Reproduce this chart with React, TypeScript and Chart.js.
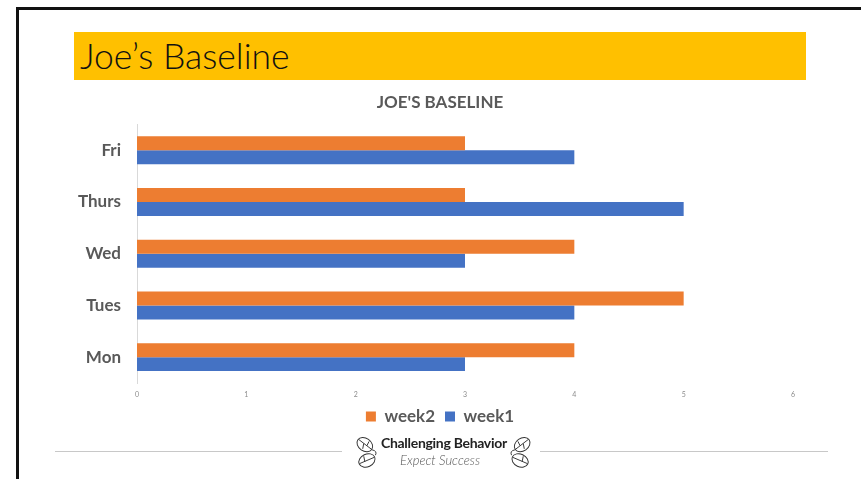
import React, { useEffect, useRef } from 'react';
import { Chart, registerables } from 'chart.js';

Chart.register(...registerables);

const categories = ['Fri', 'Thurs', 'Wed', 'Tues', 'Mon'];
const week2 = [3, 3, 4, 5, 4];
const week1 = [4, 5, 3, 4, 3];
const seriesLabels = ['week2', 'week1'];
const seriesColors = ['#ED7D31', '#4472C4'];
const xMin = 0;
const xMax = 6;

const FONT = 'Lato, "Open Sans", sans-serif';

function Leaves({ x, flip }: { x: number; flip?: boolean }) {
  return (
    <svg
      width={28}
      height={36}
      viewBox="0 0 26 34"
      style={{ position: 'absolute', left: x, top: 434, transform: flip ? 'scaleX(-1)' : undefined }}
    >
      <g fill="none" stroke="#333" strokeWidth={0.9}>
        <ellipse cx={10} cy={10} rx={8} ry={6} transform="rotate(35 10 10)" />
        <line x1={4} y1={5} x2={17} y2={15} />
        <line x1={9} y1={9} x2={8} y2={14} />
        <line x1={12} y1={11} x2={14} y2={7} />
        <ellipse cx={12} cy={25} rx={8} ry={6} transform="rotate(-25 12 25)" />
        <line x1={5} y1={28} x2={19} y2={22} />
        <line x1={10} y1={26} x2={9} y2={21} />
        <path d="M17 15 Q22 16 20 20" />
      </g>
    </svg>
  );
}

export default function App() {
  const canvasRef = useRef<HTMLCanvasElement | null>(null);

  useEffect(() => {
    const canvas = canvasRef.current;
    if (!canvas) return;
    const chart = new Chart(canvas, {
      type: 'bar',
      data: {
        labels: categories,
        datasets: [
          {
            label: seriesLabels[0],
            data: week2,
            backgroundColor: seriesColors[0],
            categoryPercentage: 0.54,
            barPercentage: 1,
          },
          {
            label: seriesLabels[1],
            data: week1,
            backgroundColor: seriesColors[1],
            categoryPercentage: 0.54,
            barPercentage: 1,
          },
        ],
      },
      options: {
        indexAxis: 'y',
        responsive: false,
        animation: false,
        layout: { padding: { top: 88, left: 60, right: 41, bottom: 44 } },
        scales: {
          x: {
            min: xMin,
            max: xMax,
            ticks: { stepSize: 1, font: { family: FONT, size: 7 }, color: '#8c8c8c', padding: 8, autoSkip: false },
            grid: { display: false, drawTicks: false },
            border: { display: false },
            afterFit: (s: any) => {
              s.height = 15;
            },
          },
          y: {
            ticks: { font: { family: FONT, size: 17, weight: 'bold' }, color: '#595959', padding: 16 },
            grid: { display: true, drawOnChartArea: false, drawTicks: false },
            border: { display: true, color: '#d9d9d9', width: 1 },
            afterFit: (s: any) => {
              s.width = 77;
            },
          },
          yRight: {
            type: 'linear',
            position: 'right',
            display: true,
            ticks: { display: false },
            grid: { display: false, drawTicks: false },
            border: { display: false },
            afterFit: (s: any) => {
              s.width = 27;
            },
          },
        },
        plugins: {
          title: {
            display: true,
            text: "JOE'S BASELINE",
            font: { family: FONT, size: 17, weight: 'bold' },
            color: '#595959',
            padding: { top: 4, bottom: 12 },
          },
          legend: {
            position: 'bottom',
            labels: {
              boxWidth: 10,
              boxHeight: 10,
              padding: 10,
              font: { family: FONT, size: 17, weight: 'bold' },
              color: '#595959',
            },
          },
          tooltip: { enabled: false },
        },
      },
    });
    return () => chart.destroy();
  }, []);

  return (
    <div
      style={{
        position: 'fixed',
        left: 0,
        top: 0,
        width: 861,
        height: 479,
        background: '#fff',
        overflow: 'hidden',
        fontFamily: FONT,
      }}
    >
      <div
        style={{
          position: 'absolute',
          left: 16,
          top: 7,
          width: 900,
          height: 500,
          borderTop: '3px solid #111',
          borderLeft: '3px solid #111',
        }}
      />
      <div
        style={{
          position: 'absolute',
          left: 74,
          top: 32,
          width: 732,
          height: 48,
          background: '#FFC000',
        }}
      >
        <div
          style={{
            position: 'absolute',
            left: 6,
            top: 3,
            fontSize: 35.5,
            lineHeight: '42px',
            color: '#111',
            fontWeight: 300,
            whiteSpace: 'nowrap',
          }}
        >
          Joe’s Baseline
        </div>
      </div>
      <canvas
        ref={canvasRef}
        width={861}
        height={479}
        style={{ position: 'absolute', left: 0, top: 0, width: 861, height: 479 }}
      />
      <div style={{ position: 'absolute', left: 55, top: 451, width: 287, height: 1, background: '#c8c8c8' }} />
      <div style={{ position: 'absolute', left: 540, top: 451, width: 288, height: 1, background: '#c8c8c8' }} />
      <Leaves x={354} />
      <Leaves x={505} flip />
      <div
        style={{
          position: 'absolute',
          left: 381,
          top: 434,
          fontSize: 14,
          fontWeight: 'bold',
          color: '#222',
          letterSpacing: -0.3,
          whiteSpace: 'nowrap',
          lineHeight: '17px',
        }}
      >
        Challenging Behavior
      </div>
      <div
        style={{
          position: 'absolute',
          left: 400,
          top: 453,
          fontSize: 13,
          fontStyle: 'italic',
          fontWeight: 300,
          color: '#555',
          whiteSpace: 'nowrap',
          lineHeight: '15px',
        }}
      >
        Expect Success
      </div>
    </div>
  );
}
